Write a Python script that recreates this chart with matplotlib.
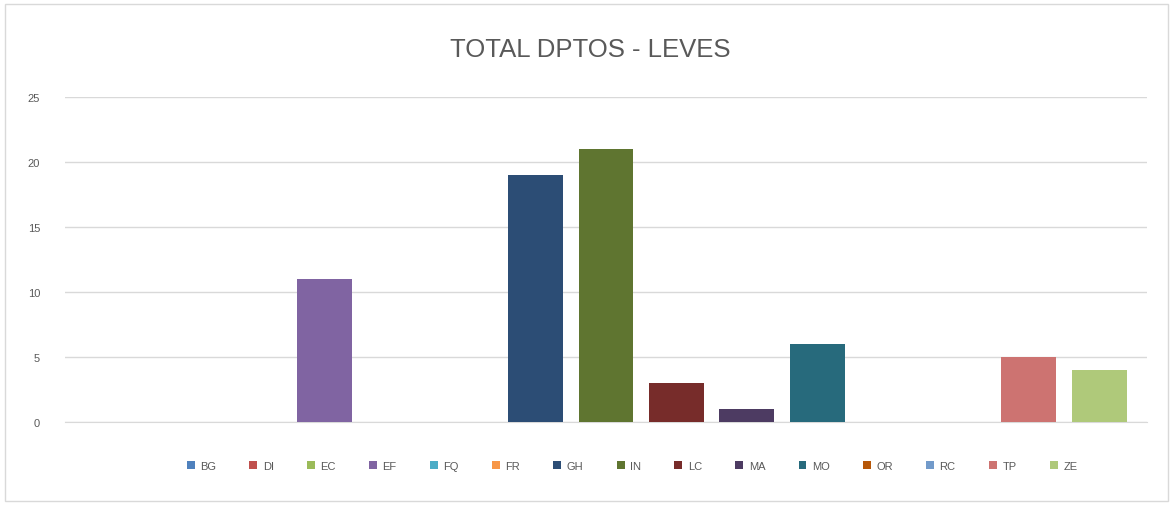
import matplotlib
matplotlib.use("Agg")
import matplotlib.pyplot as plt
from matplotlib.patches import Rectangle

# Data
dptos = ["BG", "DI", "EC", "EF", "FQ", "FR", "GH", "IN", "LC", "MA", "MO", "OR", "RC", "TP", "ZE"]
leves = [0, 0, 0, 11, 0, 0, 19, 21, 3, 1, 6, 0, 0, 5, 4]
colores = ["#4F81BD", "#C0504D", "#9BBB59", "#8064A2", "#4BACC6", "#F79646",
           "#2C4D75", "#5F7530", "#772C2A", "#4D3B62", "#276A7C", "#B65708",
           "#729ACA", "#CD7371", "#AFC97A"]
y_ticks = [0, 5, 10, 15, 20, 25]

plt.rcParams['font.family'] = ['Liberation Sans', 'DejaVu Sans']

fig = plt.figure(figsize=(11.74, 5.06), dpi=100)
fig.patch.set_facecolor("white")
# chart border
fig.patches.append(Rectangle((5 / 1174, 4 / 506), 1163 / 1174, 497 / 506,
                             transform=fig.transFigure, fill=False,
                             edgecolor="#D9D9D9", linewidth=1))

ax = fig.add_axes([65 / 1174, 1 - 423 / 506, (1147 - 65) / 1174, (423 - 98) / 506])

for i, (d, v, c) in enumerate(zip(dptos, leves, colores)):
    ax.bar(i, v, width=0.78, color=c, label=d, zorder=3)

ax.set_xlim(-0.68, 14.68)
ax.set_ylim(0, 25)
ax.set_yticks(y_ticks)
ax.set_xticks([])
ax.yaxis.grid(True, color="#D9D9D9", linewidth=1, zorder=0)
for s in ["top", "right", "left"]:
    ax.spines[s].set_visible(False)
ax.spines["bottom"].set_color("#D9D9D9")
ax.tick_params(axis="y", length=0, labelsize=8, labelcolor="#595959", pad=18)

fig.text(590 / 1174, 1 - 50 / 506, "TOTAL DPTOS - LEVES", ha="center", va="center",
         fontsize=18.5, color="#595959")

fig.legend(loc="center", bbox_to_anchor=(632 / 1174, 1 - 467 / 506), ncol=15,
           frameon=False, fontsize=8, handlelength=0.7, handleheight=0.7,
           handletextpad=0.5, columnspacing=3.0, labelcolor="#595959")

fig.savefig("out.png", dpi=100)
